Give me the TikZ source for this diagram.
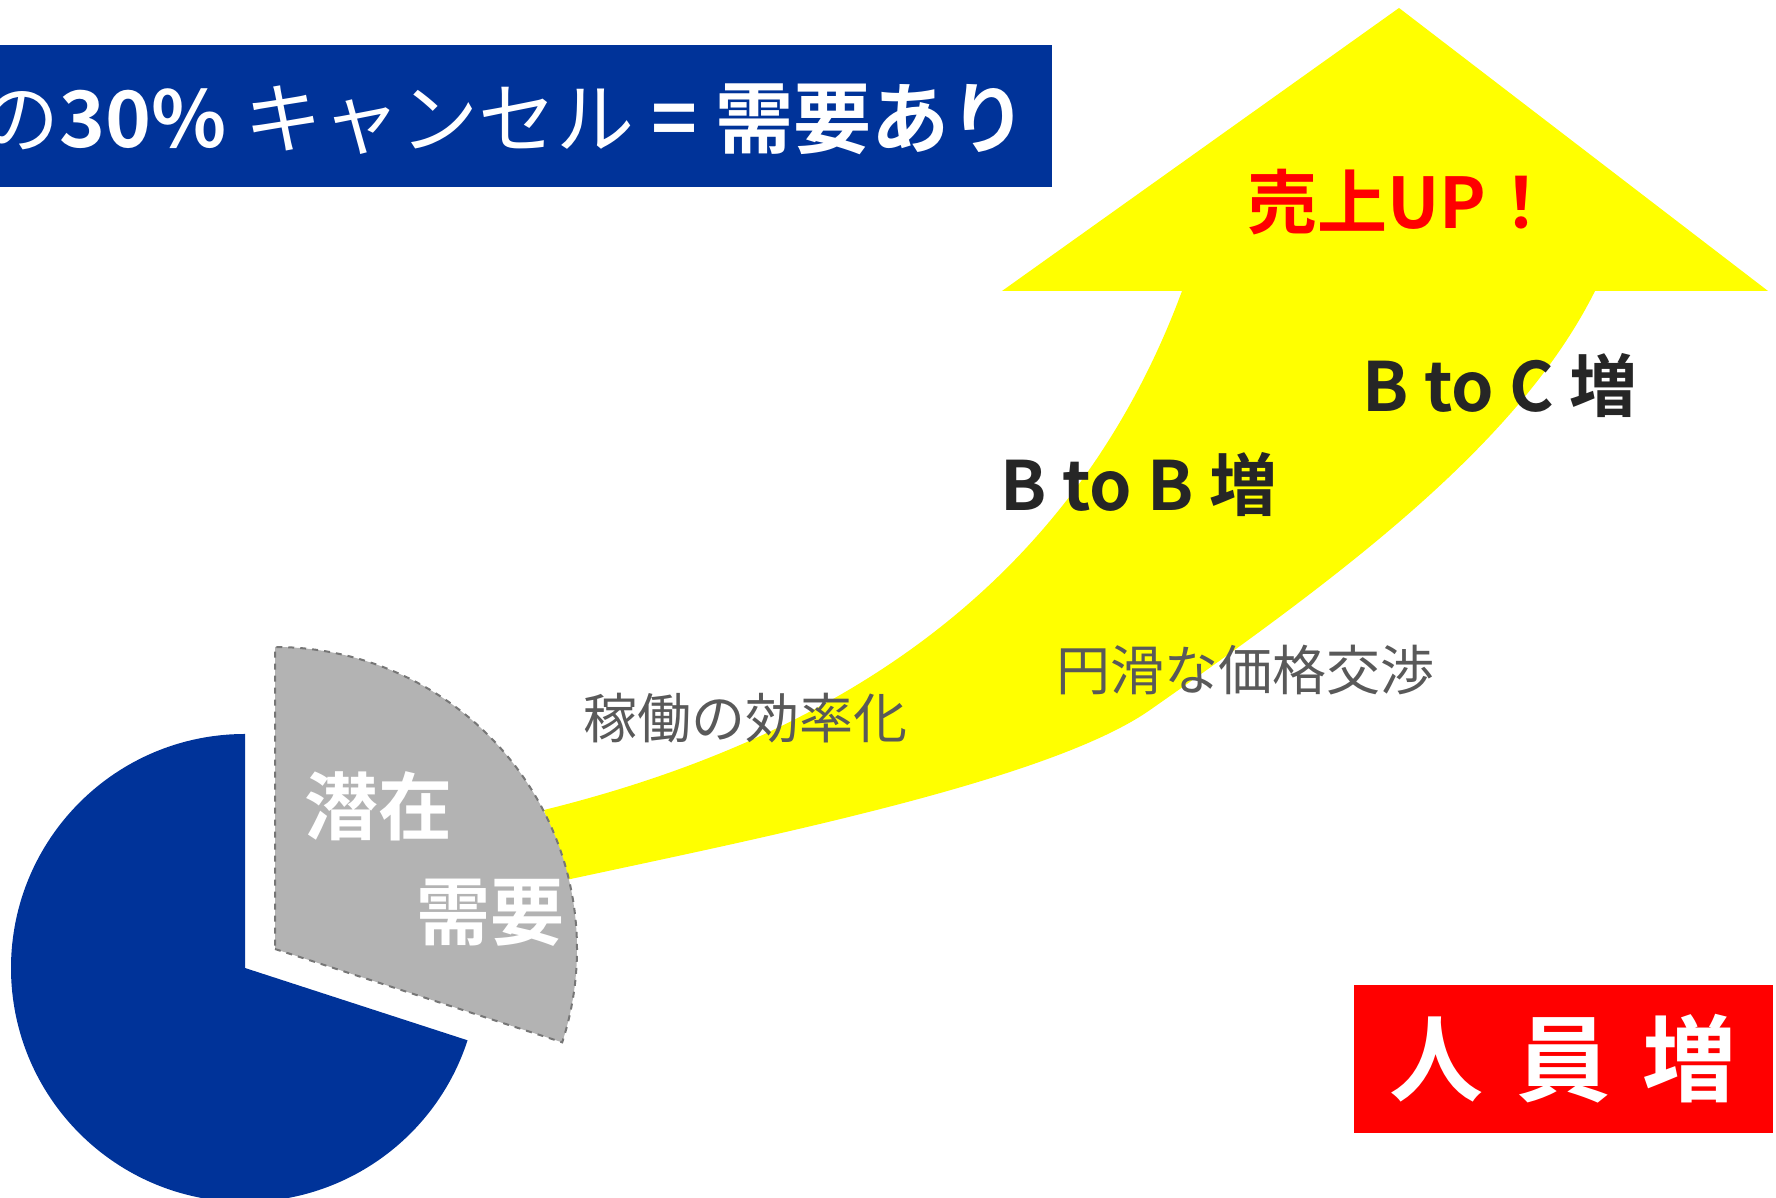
\documentclass[tikz,border=0pt]{standalone}
\usepackage{fontspec}
\setmainfont{Noto Sans CJK JP}[BoldFont={Noto Sans CJK JP Bold}]
\definecolor{pieblue}{RGB}{0,51,153}
\definecolor{demandgray}{RGB}{179,179,179}
\definecolor{edgegray}{RGB}{118,118,118}
\definecolor{darktext}{RGB}{38,38,38}
\definecolor{softtext}{RGB}{89,89,89}
\definecolor{arrowyellow}{RGB}{255,255,0}
\definecolor{staffred}{RGB}{255,0,0}

\begin{document}
\begin{tikzpicture}[x=0.5pt,y=0.5pt,
  bold label/.style={font=\bfseries\fontsize{34}{40}\selectfont,text=darktext},
  soft label/.style={font=\fontsize{27}{33}\selectfont,text=softtext},
  pie label/.style={font=\bfseries\fontsize{37}{44}\selectfont,text=white}]
  \useasboundingbox (0,0) rectangle (1776,1198);
  \clip (0,0) rectangle (1776,1198);
  % the big arrow
  \fill[arrowyellow] (544,388) .. controls (794,450) and (1062,583) .. (1182,907)
    -- (1002,907) -- (1399,1190) -- (1768,907) -- (1595,907)
    .. controls (1520,757) and (1350,628) .. (1150,488)
    .. controls (1050,418) and (766,361) .. (566,318) -- cycle;
  % pie
  \filldraw[fill=demandgray,draw=edgegray,dashed,line width=1pt] (275,249) -- ++(-18:302) arc[start angle=-18,end angle=90,radius=302] -- cycle;
  \fill[pieblue] (245,230) -- ++(90:234) arc[start angle=90,end angle=342,radius=234] -- cycle;
  \node (latent) at (378,392) [pie label] {潜在};
  \node (need) at (490,285) [pie label] {需要};
  \node (sales) at (1402,996) [text=staffred,font=\bfseries\fontsize{35}{42}\selectfont] {売上UP！};
  \node (btoc) at (1500,812) [bold label] {B to C 増};
  \node (btob) at (1139,713) [bold label] {B to B 増};
  \node (price) at (1245,528) [soft label] {円滑な価格交渉};
  \node (work) at (745,480) [soft label] {稼働の効率化};
  % title and staff boxes
  \fill[pieblue] (-10,1011) rectangle (1052,1153);
  \node (title) at (1028,1079) [anchor=east,inner sep=0pt,text=white,font=\fontsize{39}{47}\selectfont] {の\textbf{30\%} キャンセル \textbf{= 需要あり}};
  \node (staff) at (1563,139) [fill=staffred,minimum width=209.5pt,minimum height=74pt,text=white,font=\bfseries\fontsize{47}{56}\selectfont] {\spaceskip=0.35em 人 員 増};
\end{tikzpicture}
\end{document}
